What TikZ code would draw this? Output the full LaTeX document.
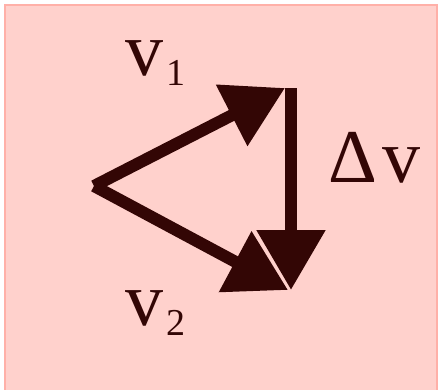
\documentclass[tikz,border=0pt]{standalone}
\usepackage{fontspec}
\setmainfont{Liberation Serif}
\usetikzlibrary{arrows.meta}

\definecolor{bgpink}{RGB}{255,209,204}
\definecolor{edgepink}{RGB}{255,176,168}
\definecolor{vecdark}{RGB}{51,6,5}

\newcommand{\vsub}[1]{\hspace{3pt}\raisebox{-10pt}{\fontsize{38}{40}\selectfont #1}}

\begin{document}
\begin{tikzpicture}[x=1pt, y=-1pt,
    vec/.style={draw=vecdark, line width=12pt,
                -{Triangle[length=60pt, width=66pt]}},
    lbl/.style={anchor=base west, inner sep=0pt, text=vecdark,
                font=\fontsize{76}{80}\selectfont}]
    \useasboundingbox (0,0) rectangle (442,389);
    \fill[white] (0,0) rectangle (442,389);
    \draw[fill=bgpink, draw=edgepink, line width=1.5pt] (5,5) rectangle (437,400);
    % points of the triangle
    \coordinate (o)  at (94,186);
    \coordinate (p1) at (285,88);
    \coordinate (q1) at (291,88);
    \coordinate (q2) at (291,290);
    \coordinate (p2) at (288,290);
    \draw[vec] (o) -- (p1);
    \draw[vec] (o) -- (p2);
    \draw[vec] (q1) -- (q2);
    % labels
    \node[lbl] (v1) at (125,75)  {v\vsub{1}};
    \node[lbl] (dv) at (328,182) {Δ\hspace{6pt}v};
    \node[lbl] (v2) at (125,325) {v\vsub{2}};
\end{tikzpicture}
\end{document}
